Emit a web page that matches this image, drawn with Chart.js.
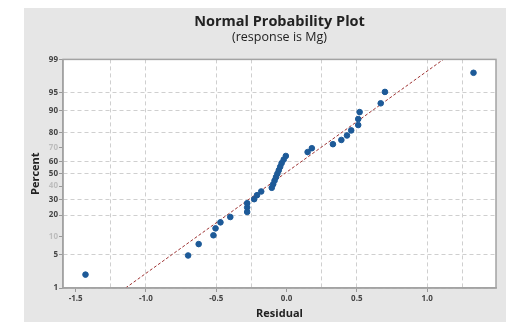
<!DOCTYPE html>
<html>
<head>
<meta charset="utf-8">
<script src="https://cdn.jsdelivr.net/npm/chart.js@4.4.1/dist/chart.umd.min.js"></script>
<style>
  html, body { margin: 0; padding: 0; background: #fff; }
  canvas { display: block; }
</style>
</head>
<body>
<canvas id="chartProb" width="506" height="322"></canvas>
<script>
/* ============================================================
   Datos
   ============================================================ */
const residuals = [-1.43, -0.70, -0.625, -0.52, -0.505, -0.47, -0.40, -0.28, -0.28, -0.28,
    -0.23, -0.21, -0.18, -0.105, -0.095, -0.085, -0.075, -0.065, -0.055, -0.045,
    -0.035, -0.02, -0.005, 0.15, 0.18, 0.33, 0.39, 0.43, 0.46, 0.51,
    0.51, 0.52, 0.67, 0.70, 1.33];
const percents = [2.0, 4.8, 7.6, 10.5, 13.3, 16.1, 18.9, 21.8, 24.6, 27.4,
    30.2, 33.1, 35.9, 38.7, 41.5, 44.4, 47.2, 50.0, 52.8, 55.6,
    58.5, 61.3, 64.1, 67.0, 69.8, 72.6, 75.4, 78.2, 81.1, 83.9,
    86.7, 89.5, 92.4, 95.2, 98.0];

// linea de referencia (ajuste normal)
const fitResidual = [-1.145, 1.116];
const fitPercent = [1, 99];

const percentTicks = [1, 5, 10, 20, 30, 40, 50, 60, 70, 80, 90, 95, 99];
const percentFaint = [10, 40, 70];
const residualTicks = [-1.5, -1.25, -1.0, -0.75, -0.5, -0.25, 0, 0.25, 0.5, 0.75, 1.0, 1.25];
const residualLabels = [-1.5, -1.0, -0.5, 0, 0.5, 1.0];
const residualNoGrid = [-1.5, -0.75, 0, 0.75];

/* ============================================================
   Escala de probabilidad normal
   ============================================================ */
function probit(p) {
    const a = [-3.969683028665376e+01, 2.209460984245205e+02, -2.759285104469687e+02, 1.383577518672690e+02, -3.066479806614716e+01, 2.506628277459239e+00];
    const b = [-5.447609879822406e+01, 1.615858368580409e+02, -1.556989798598866e+02, 6.680131188771972e+01, -1.328068155288572e+01];
    const c = [-7.784894002430293e-03, -3.223964580411365e-01, -2.400758277161838e+00, -2.549732539343734e+00, 4.374664141464968e+00, 2.938163982698783e+00];
    const d = [7.784695709041462e-03, 3.224671290700398e-01, 2.445134137142996e+00, 3.754408661907416e+00];
    const pl = 0.02425;
    let q, r;
    if (p < pl) {
        q = Math.sqrt(-2 * Math.log(p));
        return (((((c[0]*q+c[1])*q+c[2])*q+c[3])*q+c[4])*q+c[5]) / ((((d[0]*q+d[1])*q+d[2])*q+d[3])*q+1);
    }
    if (p > 1 - pl) {
        q = Math.sqrt(-2 * Math.log(1 - p));
        return -(((((c[0]*q+c[1])*q+c[2])*q+c[3])*q+c[4])*q+c[5]) / ((((d[0]*q+d[1])*q+d[2])*q+d[3])*q+1);
    }
    q = p - 0.5; r = q * q;
    return (((((a[0]*r+a[1])*r+a[2])*r+a[3])*r+a[4])*r+a[5])*q / (((((b[0]*r+b[1])*r+b[2])*r+b[3])*r+b[4])*r+1);
}
function normCdf(z) {
    const t = 1 / (1 + 0.2316419 * Math.abs(z));
    const y = 0.3989423 * Math.exp(-z * z / 2) *
        t * (0.3193815 + t * (-0.3565638 + t * (1.781478 + t * (-1.821256 + t * 1.330274))));
    return z > 0 ? 1 - y : y;
}

class ProbitScale extends Chart.LinearScale {
    determineDataLimits() {
        this.min = this.options.min;
        this.max = this.options.max;
    }
    buildTicks() {
        return percentTicks.map(v => ({ value: v }));
    }
    getPixelForValue(v) {
        const a = probit(this.min / 100), b = probit(this.max / 100);
        return this.getPixelForDecimal((probit(v / 100) - a) / (b - a));
    }
    getValueForPixel(px) {
        const a = probit(this.min / 100), b = probit(this.max / 100);
        return 100 * normCdf(a + this.getDecimalForPixel(px) * (b - a));
    }
}
ProbitScale.id = "probit";
Chart.register(ProbitScale);

/* ============================================================
   Fondo y marco
   ============================================================ */
const fondoPlugin = {
    id: "fondo",
    beforeDraw(chart) {
        const { ctx, chartArea: ca } = chart;
        ctx.save();
        ctx.fillStyle = "#ffffff";
        ctx.fillRect(0, 0, chart.width, chart.height);
        ctx.fillStyle = "#e6e6e6";
        ctx.fillRect(24, 8, chart.width - 24, chart.height - 8);
        ctx.fillStyle = "#ffffff";
        ctx.fillRect(ca.left, ca.top, ca.right - ca.left, ca.bottom - ca.top);
        ctx.restore();
    },
    afterDraw(chart) {
        const { ctx, chartArea: ca } = chart;
        ctx.save();
        ctx.strokeStyle = "#a3a3a3";
        ctx.lineWidth = 1.5;
        ctx.strokeRect(ca.left, ca.top, ca.right - ca.left, ca.bottom - ca.top);
        ctx.restore();
    }
};

const FONT = "'Open Sans', 'Noto Sans', sans-serif";
const near = (a, b) => Math.abs(a - b) < 1e-6;

new Chart(document.getElementById("chartProb"), {
    type: "scatter",
    data: {
        datasets: [{
            label: "Residuos",
            data: residuals.map((x, i) => ({ x: x, y: percents[i] })),
            backgroundColor: "#1d5a98",
            borderColor: "#1d5a98",
            pointRadius: 2.8,
            pointHoverRadius: 2.8,
            order: 0
        }, {
            label: "Ajuste",
            data: fitResidual.map((x, i) => ({ x: x, y: fitPercent[i] })),
            showLine: true,
            borderColor: "#9e3434",
            borderWidth: 1,
            borderDash: [3, 2],
            pointRadius: 0,
            order: 1
        }]
    },
    options: {
        responsive: false,
        animation: false,
        devicePixelRatio: 1,
        layout: { padding: { left: 24, right: 10, top: 8, bottom: 0 } },
        plugins: {
            legend: { display: false },
            tooltip: { enabled: false },
            title: {
                display: true,
                text: "Normal Probability Plot",
                fullSize: false,
                color: "#222",
                font: { family: FONT, size: 14.5, weight: "bold" },
                padding: { top: 5, bottom: 0 }
            },
            subtitle: {
                display: true,
                text: "(response is Mg)",
                fullSize: false,
                color: "#222",
                font: { family: FONT, size: 12.5 },
                padding: { top: 0, bottom: 14 }
            }
        },
        scales: {
            x: {
                type: "linear",
                min: -1.59,
                max: 1.49,
                afterBuildTicks: s => { s.ticks = residualTicks.map(v => ({ value: v })); },
                afterFit: s => { s.height = 34; },
                ticks: {
                    autoSkip: false,
                    maxRotation: 0,
                    padding: 2,
                    color: "#444",
                    font: { family: FONT, size: 8, weight: "bold" },
                    callback: v => residualLabels.some(l => near(l, v)) ? v.toFixed(1) : ""
                },
                grid: {
                    color: ctx => residualNoGrid.some(l => near(l, ctx.tick.value)) ? "rgba(0,0,0,0)" : "#cfcfcf",
                    tickColor: ctx => residualLabels.some(l => near(l, ctx.tick.value)) ? "#999" : "rgba(0,0,0,0)",
                    tickLength: 4,
                    lineWidth: 1
                },
                border: { color: "#a3a3a3", width: 1.5, dash: [4, 3] },
                title: {
                    display: true,
                    text: "Residual",
                    color: "#222",
                    font: { family: FONT, size: 11, weight: "bold" },
                    padding: { top: 0, bottom: 2 }
                }
            },
            y: {
                type: "probit",
                min: 1,
                max: 99,
                afterFit: s => { s.width = 39; },
                ticks: {
                    autoSkip: false,
                    padding: 1,
                    color: ctx => percentFaint.includes(ctx.tick.value) ? "#bdbdbd" : "#444",
                    font: { family: FONT, size: 8, weight: "bold" },
                    callback: v => String(v)
                },
                grid: {
                    color: ctx => percentFaint.includes(ctx.tick.value) ? "rgba(0,0,0,0)" : "#cfcfcf",
                    tickColor: "#999",
                    tickLength: 4,
                    lineWidth: 1
                },
                border: { color: "#a3a3a3", width: 1.5, dash: [4, 3] },
                title: {
                    display: true,
                    text: "Percent",
                    color: "#222",
                    font: { family: FONT, size: 11, weight: "bold" },
                    padding: { top: 5, bottom: 0 }
                }
            }
        }
    },
    plugins: [fondoPlugin]
});
</script>
</body>
</html>
